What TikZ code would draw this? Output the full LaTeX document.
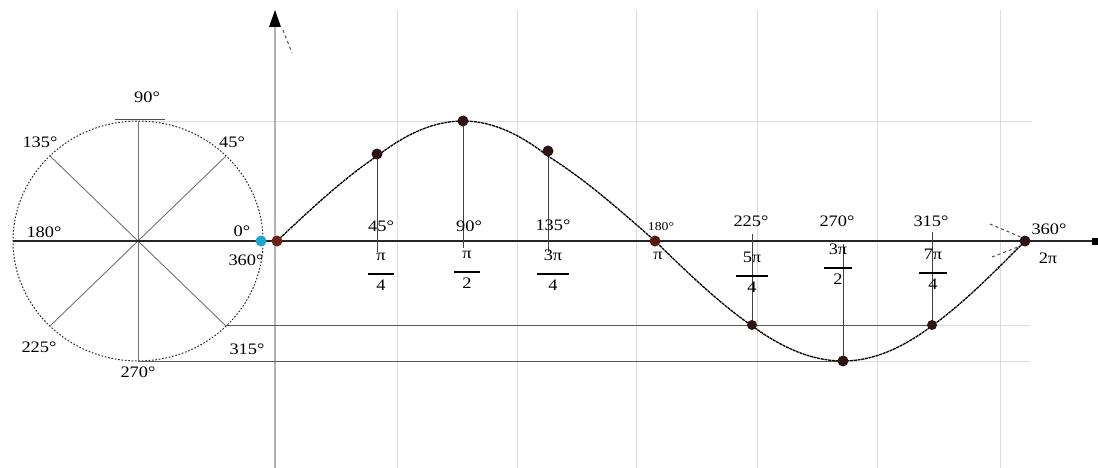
\documentclass[tikz,border=0pt]{standalone}
\usepackage{fontspec}
\setmainfont{Liberation Serif}[FakeStretch=1.15]
\usetikzlibrary{arrows.meta}
\definecolor{ptdark}{HTML}{2E1414}
\definecolor{ptred}{HTML}{5A1812}
\definecolor{ptbrown}{HTML}{6A2418}
\definecolor{ptcyan}{HTML}{1FA5D0}
\newcommand\fracl[3][26pt]{\begin{tabular}{@{}c@{}}#2\\[-4pt]\rule{#1}{1.3pt}\\[-2pt]#3\end{tabular}}
\begin{document}
\begin{tikzpicture}[x=1pt,y=-1pt,
  font=\fontsize{16}{18}\selectfont,
  gridline/.style={gray!28, line width=0.9pt},
  projline/.style={black!65, line width=1pt},
  dropline/.style={black!75, line width=1pt},
  circline/.style={black!55, line width=0.9pt},
  pt/.style={circle, fill=#1, inner sep=0pt, minimum size=11pt},
  lab/.style={inner sep=0pt}]
\useasboundingbox (0,0) rectangle (1098,468);
% grid
\foreach \gx in {397,517,636,757,877,1000} \draw[gridline] (\gx,10) -- (\gx,468);
\draw[gridline] (138,121) -- (1032,121);
\draw[gridline] (932,325) -- (1030,325);
\draw[gridline] (843,361) -- (1030,361);
% y axis
\coordinate (ybot) at (275,468);
\coordinate (ytop) at (275,10);
\draw[gray!60, line width=1.1pt] (ybot) -- (275,26);
\fill[black] (269,27) -- (ytop) -- (281,27) -- cycle;
\draw[black!70, dashed, line width=1pt] (283,30) -- (292,53);
% circle
\coordinate (c) at (138,241);
\draw[black!85, line width=1pt, dash pattern=on 1.6pt off 1.8pt] (c) ellipse [x radius=125, y radius=120];
\draw[circline] (138,121) -- (138,361);
\draw[circline] (226,156) -- (50,326);
\draw[circline] (50,156) -- (226,326);
\draw[black!70, line width=1pt] (115,120) -- (165,120);
% x axis
\coordinate (xend) at (1095,241);
\draw[black!85, line width=1.4pt] (13,241) -- (xend);
\node[fill=black, minimum size=7pt, inner sep=0pt] (xsq) at (xend) {};
% projections
\draw[projline] (226,325) -- (932,325);
\draw[projline] (138,361) -- (843,361);
% drop lines
\draw[dropline] (377,154) -- (377,252);
\draw[dropline] (463,121) -- (463,248);
\draw[dropline] (548,151) -- (548,252);
\draw[dropline] (752,325) -- (752,234);
\draw[dropline] (843,361) -- (843,244);
\draw[dropline] (932,325) -- (932,232);
% curve
\draw[black, line width=1.3pt, dash pattern=on 3pt off 0.7pt]
  plot[domain=0:45,samples=15] ({277+100*\x/45},{241-120*sin(\x)})
  -- plot[domain=45:90,samples=15] ({377+86*(\x-45)/45},{241-120*sin(\x)})
  -- plot[domain=90:135,samples=15] ({463+85*(\x-90)/45},{241-120*sin(\x)})
  -- plot[domain=135:180,samples=15] ({548+107*(\x-135)/45},{241-120*sin(\x)})
  -- plot[domain=180:225,samples=15] ({655+97*(\x-180)/45},{241-120*sin(\x)})
  -- plot[domain=225:270,samples=15] ({752+91*(\x-225)/45},{241-120*sin(\x)})
  -- plot[domain=270:315,samples=15] ({843+89*(\x-270)/45},{241-120*sin(\x)})
  -- plot[domain=315:360,samples=15] ({932+93*(\x-315)/45},{241-120*sin(\x)});
% dashed marks at 360
\draw[black!70, dashed, line width=1pt] (990,224) -- (1023,238);
\draw[black!70, dashed, line width=1pt] (992,257) -- (1023,245);
% points
\node[pt=ptcyan] (q0) at (261,241) {};
\node[pt=ptbrown] (p0) at (277,241) {};
\node[pt=ptdark] (p1) at (377,154) {};
\node[pt=ptdark] (p2) at (463,121) {};
\node[pt=ptdark] (p3) at (548,151) {};
\node[pt=ptred] (p4) at (655,241) {};
\node[pt=ptdark, minimum size=10pt] (p5) at (752,325) {};
\node[pt=ptdark] (p6) at (843,361) {};
\node[pt=ptdark, minimum size=10pt] (p7) at (932,325) {};
\node[pt=ptdark] (p8) at (1025,241) {};
% circle labels
\node[lab] (l90) at (147,97) {90°};
\node[lab] (l135) at (40,142) {135°};
\node[lab] (l45) at (232,142) {45°};
\node[lab] (l180) at (44,232) {180°};
\node[lab] (l0) at (242,231) {0°};
\node[lab] (l360) at (246,260) {360°};
\node[lab] (l225) at (39,347) {225°};
\node[lab] (l270) at (138,372) {270°};
\node[lab] (l315) at (247,349) {315°};
% sine labels
\node[lab] (s45) at (381,226) {45°};
\node[lab] (s90) at (469,226) {90°};
\node[lab] (s135) at (553,225) {135°};
\node[lab, font=\fontsize{12}{14}\selectfont] (s180) at (661,227) {180°};
\node[lab] (s225) at (751,221) {225°};
\node[lab] (s270) at (837,221) {270°};
\node[lab] (s315) at (931,221) {315°};
\node[lab] (s360) at (1049,229) {360°};
\node[lab] (f1) at (381,272) {\fracl{π}{4}};
\node[lab] (f2) at (467,270) {\fracl{π}{2}};
\node[lab] (f3) at (553,272) {\fracl[32pt]{3π}{4}};
\node[lab] (f4) at (658,256) {π};
\node[lab] (f5) at (752,274) {\fracl[32pt]{5π}{4}};
\node[lab] (f6) at (838,266) {\fracl[28pt]{3π}{2}};
\node[lab] (f7) at (933,271) {\fracl[28pt]{7π}{4}};
\node[lab] (f8) at (1048,258) {2π};
\end{tikzpicture}
\end{document}
